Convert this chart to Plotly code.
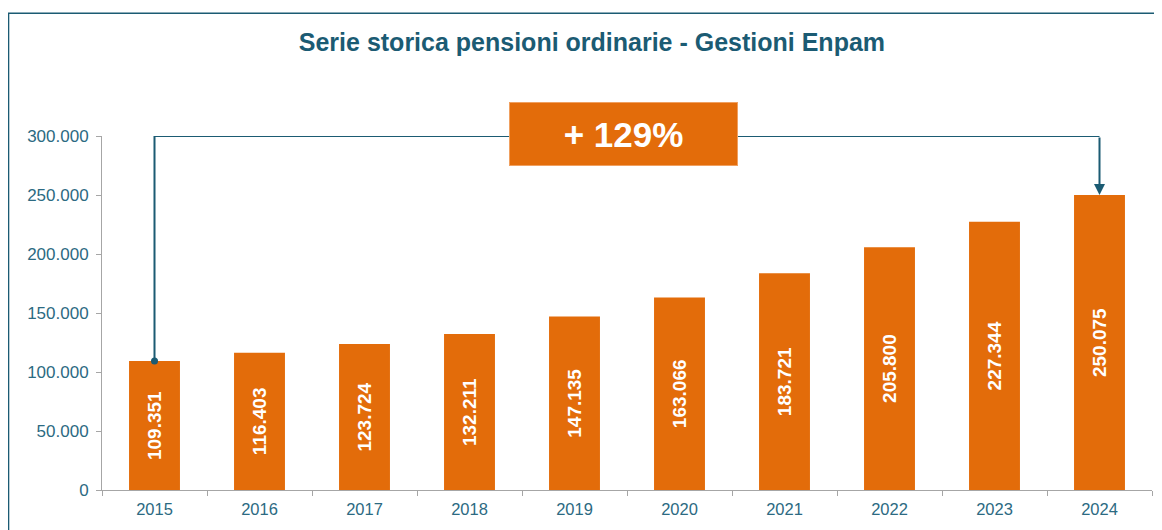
import plotly.graph_objects as go

years = ["2015", "2016", "2017", "2018", "2019", "2020", "2021", "2022", "2023", "2024"]
pensions = [109351, 116403, 123724, 132211, 147135, 163066, 183721, 205800, 227344, 250075]
growth_label = "+ 129%"
title_text = "Serie storica pensioni ordinarie - Gestioni Enpam"
y_ticks = [0, 50000, 100000, 150000, 200000, 250000, 300000]

ORANGE = "#E36C0A"
TEAL = "#1B5B73"
TICK = "#2C6A82"
AXIS = "#A6A6A6"
FONT = "Liberation Sans, Arial, sans-serif"

W, H = 1154, 522

fig = go.Figure()
fig.add_trace(go.Bar(
    x=years, y=pensions, marker=dict(color=ORANGE, line=dict(width=0)),
    texttemplate="<b>%{y:,.0f}</b>", textposition="inside", insidetextanchor="middle",
    textangle=-90, textfont=dict(color="white", size=19, family=FONT),
    hoverinfo="skip",
))
# connector line from first bar to last
fig.add_trace(go.Scatter(
    x=[years[0], years[0], years[-1]], y=[pensions[0], y_ticks[-1], y_ticks[-1]],
    mode="lines", line=dict(color=TEAL, width=2), cliponaxis=False, hoverinfo="skip",
))
fig.add_trace(go.Scatter(
    x=[years[0]], y=[pensions[0]], mode="markers",
    marker=dict(color=TEAL, size=7), cliponaxis=False, hoverinfo="skip",
))
fig.add_annotation(
    x=len(years) - 1, y=pensions[-1], ax=len(years) - 1, ay=y_ticks[-1],
    xref="x", yref="y", axref="x", ayref="y", text="", showarrow=True,
    arrowhead=2, arrowsize=1.1, arrowwidth=2, arrowcolor=TEAL, standoff=0,
)
fig.add_annotation(
    x=0.497, y=1.0056, xref="paper", yref="paper", text="<b>" + growth_label + "</b>",
    showarrow=False, font=dict(color="white", size=35, family=FONT),
    bgcolor=ORANGE, bordercolor="#F0A060", borderwidth=1, borderpad=0,
    width=227, height=62, xanchor="center", yanchor="middle",
)
fig.add_shape(
    type="rect", xref="paper", yref="paper", x0=-0.089, x1=1.2, y0=-0.3, y1=1.347,
    line=dict(color=TEAL, width=1.5), fillcolor="rgba(0,0,0,0)", layer="below",
)
fig.update_layout(
    width=W, height=H, paper_bgcolor="white", plot_bgcolor="white",
    margin=dict(l=94, r=10, t=128, b=40), showlegend=False, bargap=0.515,
    separators=",.", font=dict(family=FONT, color=TICK),
    title=dict(text="<b>" + title_text + "</b>", x=0.506, xref="container", xanchor="center",
               y=1 - 34 / H, yref="container", yanchor="middle",
               font=dict(size=25, color=TEAL, family=FONT)),
)
fig.update_xaxes(type="category", range=[-0.5, len(years) - 0.5], showline=True,
                 linecolor=AXIS, linewidth=1,
                 ticks="outside", tickson="boundaries", ticklen=5, tickcolor=AXIS,
                 tickfont=dict(size=16.5, color=TICK), showgrid=False, fixedrange=True,
                 ticklabelstandoff=4)
fig.update_yaxes(range=[0, 300000], tickvals=y_ticks, tickformat=",.0f", showline=True,
                 linecolor=AXIS, linewidth=1, ticks="outside", ticklen=5, tickcolor=AXIS,
                 tickfont=dict(size=17, color=TICK), showgrid=False, zeroline=False,
                 ticklabelstandoff=4)
fig.write_html("out.html")
